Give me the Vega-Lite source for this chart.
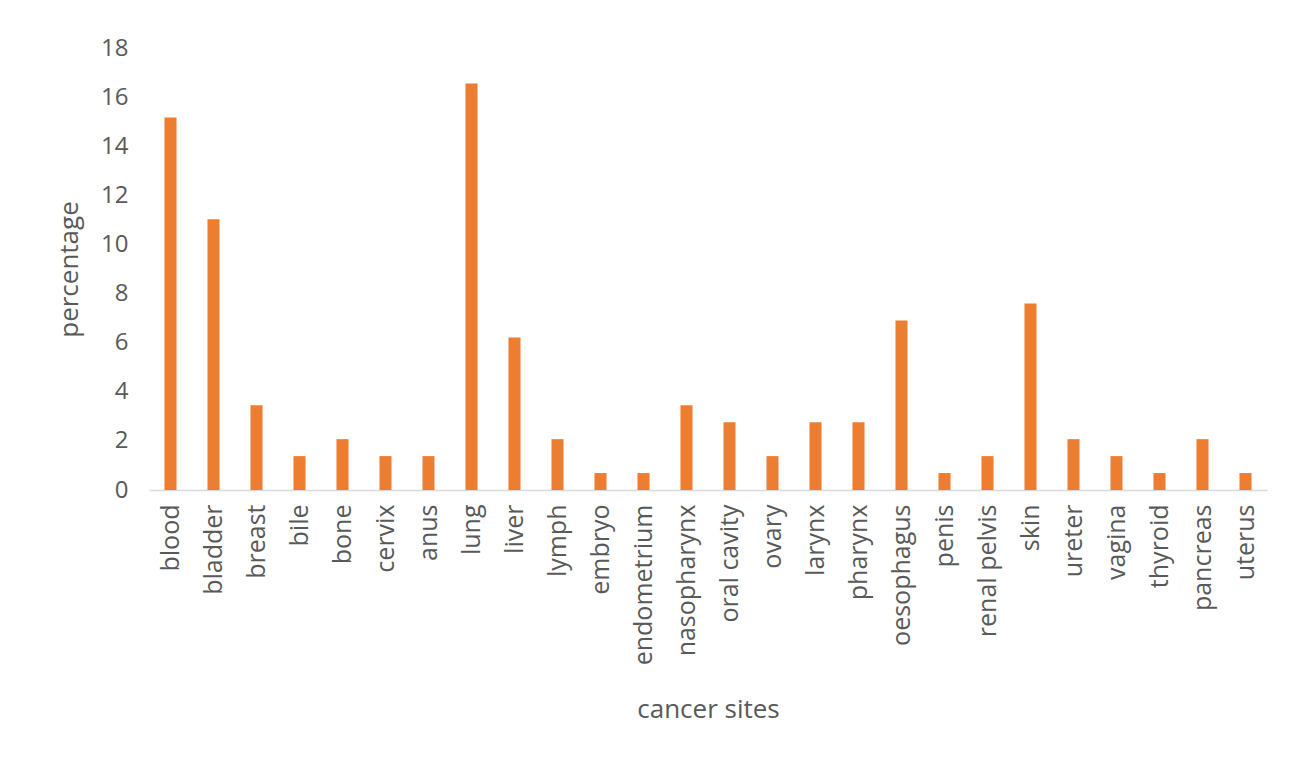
{
  "$schema": "https://vega.github.io/schema/vega-lite/v6.json",
  "autosize": "none",
  "width": 1118,
  "height": 442,
  "padding": {"left": 149, "top": 48, "right": 25, "bottom": 268},
  "background": "white",
  "config": {
    "view": {"stroke": null},
    "font": "Open Sans",
    "axis": {"labelFont": "Open Sans", "titleFont": "Open Sans", "labelColor": "#595959", "titleColor": "#595959", "titleFontWeight": "normal"}
  },
  "data": {
    "values": [
      {"site": "blood", "percentage": 15.17},
      {"site": "bladder", "percentage": 11.03},
      {"site": "breast", "percentage": 3.45},
      {"site": "bile", "percentage": 1.38},
      {"site": "bone", "percentage": 2.07},
      {"site": "cervix", "percentage": 1.38},
      {"site": "anus", "percentage": 1.38},
      {"site": "lung", "percentage": 16.55},
      {"site": "liver", "percentage": 6.21},
      {"site": "lymph", "percentage": 2.07},
      {"site": "embryo", "percentage": 0.69},
      {"site": "endometrium", "percentage": 0.69},
      {"site": "nasopharynx", "percentage": 3.45},
      {"site": "oral cavity", "percentage": 2.76},
      {"site": "ovary", "percentage": 1.38},
      {"site": "larynx", "percentage": 2.76},
      {"site": "pharynx", "percentage": 2.76},
      {"site": "oesophagus", "percentage": 6.9},
      {"site": "penis", "percentage": 0.69},
      {"site": "renal pelvis", "percentage": 1.38},
      {"site": "skin", "percentage": 7.59},
      {"site": "ureter", "percentage": 2.07},
      {"site": "vagina", "percentage": 1.38},
      {"site": "thyroid", "percentage": 0.69},
      {"site": "pancreas", "percentage": 2.07},
      {"site": "uterus", "percentage": 0.69}
    ]
  },
  "mark": {"type": "bar", "color": "#ED7D31"},
  "encoding": {
    "x": {
      "field": "site",
      "type": "nominal",
      "sort": null,
      "scale": {"paddingInner": 0.72, "paddingOuter": 0.36},
      "axis": {
        "title": "cancer sites",
        "titleFontSize": 26,
        "titlePadding": 32,
        "labelFontSize": 25,
        "labelAngle": -90,
        "labelPadding": 14,
        "labelOverlap": false,
        "labelLimit": 300,
        "ticks": false,
        "domainColor": "#d9d9d9",
        "domainWidth": 1.5
      }
    },
    "y": {
      "field": "percentage",
      "type": "quantitative",
      "scale": {"domain": [0, 18]},
      "axis": {
        "title": "percentage",
        "titleFontSize": 26,
        "titlePadding": 18,
        "labelFontSize": 24,
        "labelPadding": 21,
        "labelOverlap": false,
        "values": [0, 2, 4, 6, 8, 10, 12, 14, 16, 18],
        "ticks": false,
        "domain": false,
        "grid": false
      }
    }
  }
}
